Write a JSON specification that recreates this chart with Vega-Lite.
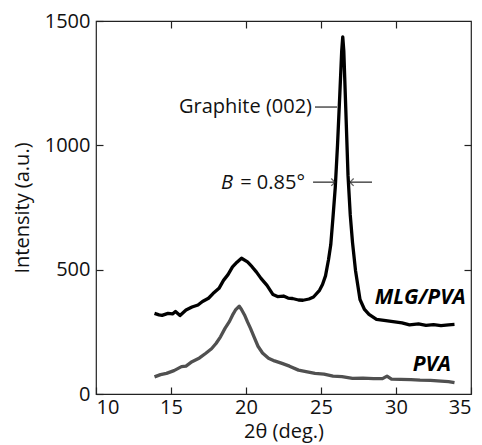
{
  "$schema": "https://vega.github.io/schema/vega-lite/v6.json",
  "width": 375,
  "height": 373,
  "autosize": "none",
  "padding": {"left": 96, "top": 21, "right": 11, "bottom": 51},
  "config": {
    "font": "Open Sans",
    "view": {"stroke": "#222", "strokeWidth": 1.2},
    "axis": {
      "domain": false,
      "grid": false,
      "tickColor": "#222",
      "tickSize": -7,
      "tickWidth": 1.2,
      "labelFont": "Open Sans",
      "labelFontSize": 20,
      "labelColor": "#111",
      "titleFont": "Open Sans",
      "titleFontSize": 20,
      "titleFontWeight": "normal",
      "titleColor": "#111"
    }
  },
  "datasets": {
    "curves": [
      {"x": 13.9, "y": 324, "s": "MLG/PVA"},
      {"x": 14.2, "y": 318, "s": "MLG/PVA"},
      {"x": 14.4, "y": 316, "s": "MLG/PVA"},
      {"x": 14.8, "y": 324, "s": "MLG/PVA"},
      {"x": 15.1, "y": 322, "s": "MLG/PVA"},
      {"x": 15.3, "y": 332, "s": "MLG/PVA"},
      {"x": 15.6, "y": 316, "s": "MLG/PVA"},
      {"x": 16.0, "y": 338, "s": "MLG/PVA"},
      {"x": 16.4, "y": 350, "s": "MLG/PVA"},
      {"x": 16.8, "y": 358, "s": "MLG/PVA"},
      {"x": 17.1, "y": 372, "s": "MLG/PVA"},
      {"x": 17.5, "y": 385, "s": "MLG/PVA"},
      {"x": 17.8, "y": 404, "s": "MLG/PVA"},
      {"x": 18.2, "y": 425, "s": "MLG/PVA"},
      {"x": 18.5, "y": 457, "s": "MLG/PVA"},
      {"x": 18.8, "y": 480, "s": "MLG/PVA"},
      {"x": 19.1, "y": 511, "s": "MLG/PVA"},
      {"x": 19.4, "y": 530, "s": "MLG/PVA"},
      {"x": 19.7, "y": 546, "s": "MLG/PVA"},
      {"x": 20.1, "y": 531, "s": "MLG/PVA"},
      {"x": 20.4, "y": 512, "s": "MLG/PVA"},
      {"x": 20.7, "y": 490, "s": "MLG/PVA"},
      {"x": 21.0, "y": 465, "s": "MLG/PVA"},
      {"x": 21.4, "y": 437, "s": "MLG/PVA"},
      {"x": 21.8, "y": 400, "s": "MLG/PVA"},
      {"x": 22.1, "y": 392, "s": "MLG/PVA"},
      {"x": 22.5, "y": 394, "s": "MLG/PVA"},
      {"x": 22.8, "y": 386, "s": "MLG/PVA"},
      {"x": 23.1, "y": 384, "s": "MLG/PVA"},
      {"x": 23.5, "y": 378, "s": "MLG/PVA"},
      {"x": 23.8, "y": 377, "s": "MLG/PVA"},
      {"x": 24.2, "y": 382, "s": "MLG/PVA"},
      {"x": 24.5, "y": 390, "s": "MLG/PVA"},
      {"x": 24.9, "y": 417, "s": "MLG/PVA"},
      {"x": 25.1, "y": 440, "s": "MLG/PVA"},
      {"x": 25.3, "y": 475, "s": "MLG/PVA"},
      {"x": 25.5, "y": 540, "s": "MLG/PVA"},
      {"x": 25.65, "y": 600, "s": "MLG/PVA"},
      {"x": 25.8, "y": 711, "s": "MLG/PVA"},
      {"x": 25.95, "y": 830, "s": "MLG/PVA"},
      {"x": 26.1, "y": 1000, "s": "MLG/PVA"},
      {"x": 26.25, "y": 1200, "s": "MLG/PVA"},
      {"x": 26.38, "y": 1380, "s": "MLG/PVA"},
      {"x": 26.45, "y": 1436, "s": "MLG/PVA"},
      {"x": 26.52, "y": 1380, "s": "MLG/PVA"},
      {"x": 26.65, "y": 1150, "s": "MLG/PVA"},
      {"x": 26.8, "y": 880, "s": "MLG/PVA"},
      {"x": 26.95, "y": 720, "s": "MLG/PVA"},
      {"x": 27.1, "y": 610, "s": "MLG/PVA"},
      {"x": 27.3, "y": 497, "s": "MLG/PVA"},
      {"x": 27.6, "y": 380, "s": "MLG/PVA"},
      {"x": 27.9, "y": 340, "s": "MLG/PVA"},
      {"x": 28.2, "y": 320, "s": "MLG/PVA"},
      {"x": 28.7, "y": 300, "s": "MLG/PVA"},
      {"x": 29.2, "y": 296, "s": "MLG/PVA"},
      {"x": 29.8, "y": 291, "s": "MLG/PVA"},
      {"x": 30.4, "y": 286, "s": "MLG/PVA"},
      {"x": 30.9, "y": 278, "s": "MLG/PVA"},
      {"x": 31.5, "y": 282, "s": "MLG/PVA"},
      {"x": 32.0, "y": 276, "s": "MLG/PVA"},
      {"x": 32.5, "y": 279, "s": "MLG/PVA"},
      {"x": 33.0, "y": 275, "s": "MLG/PVA"},
      {"x": 33.5, "y": 278, "s": "MLG/PVA"},
      {"x": 33.9, "y": 280, "s": "MLG/PVA"},
      {"x": 13.9, "y": 69, "s": "PVA"},
      {"x": 14.3, "y": 78, "s": "PVA"},
      {"x": 14.7, "y": 83, "s": "PVA"},
      {"x": 15.2, "y": 94, "s": "PVA"},
      {"x": 15.7, "y": 110, "s": "PVA"},
      {"x": 16.0, "y": 112, "s": "PVA"},
      {"x": 16.4, "y": 130, "s": "PVA"},
      {"x": 16.9, "y": 145, "s": "PVA"},
      {"x": 17.3, "y": 163, "s": "PVA"},
      {"x": 17.7, "y": 182, "s": "PVA"},
      {"x": 18.0, "y": 203, "s": "PVA"},
      {"x": 18.3, "y": 230, "s": "PVA"},
      {"x": 18.6, "y": 264, "s": "PVA"},
      {"x": 18.9, "y": 292, "s": "PVA"},
      {"x": 19.1, "y": 317, "s": "PVA"},
      {"x": 19.3, "y": 338, "s": "PVA"},
      {"x": 19.55, "y": 353, "s": "PVA"},
      {"x": 19.7, "y": 340, "s": "PVA"},
      {"x": 19.9, "y": 318, "s": "PVA"},
      {"x": 20.1, "y": 290, "s": "PVA"},
      {"x": 20.3, "y": 264, "s": "PVA"},
      {"x": 20.5, "y": 235, "s": "PVA"},
      {"x": 20.8, "y": 192, "s": "PVA"},
      {"x": 21.1, "y": 165, "s": "PVA"},
      {"x": 21.5, "y": 144, "s": "PVA"},
      {"x": 21.9, "y": 133, "s": "PVA"},
      {"x": 22.4, "y": 123, "s": "PVA"},
      {"x": 22.9, "y": 112, "s": "PVA"},
      {"x": 23.5, "y": 96, "s": "PVA"},
      {"x": 24.0, "y": 90, "s": "PVA"},
      {"x": 24.6, "y": 83, "s": "PVA"},
      {"x": 25.2, "y": 80, "s": "PVA"},
      {"x": 25.8, "y": 72, "s": "PVA"},
      {"x": 26.4, "y": 70, "s": "PVA"},
      {"x": 27.1, "y": 63, "s": "PVA"},
      {"x": 27.8, "y": 64, "s": "PVA"},
      {"x": 28.5, "y": 62, "s": "PVA"},
      {"x": 29.1, "y": 62, "s": "PVA"},
      {"x": 29.4, "y": 72, "s": "PVA"},
      {"x": 29.7, "y": 60, "s": "PVA"},
      {"x": 30.3, "y": 59, "s": "PVA"},
      {"x": 31.0, "y": 58, "s": "PVA"},
      {"x": 31.6, "y": 56, "s": "PVA"},
      {"x": 32.3, "y": 55, "s": "PVA"},
      {"x": 33.0, "y": 52, "s": "PVA"},
      {"x": 33.5, "y": 50, "s": "PVA"},
      {"x": 33.9, "y": 46, "s": "PVA"}
    ],
    "rules": [
      {"x": 24.6, "x2": 26.07, "y": 1154},
      {"x": 24.47, "x2": 25.93, "y": 852},
      {"x": 26.93, "x2": 28.4, "y": 852}
    ],
    "heads": [
      {"x": 25.93, "y": 852, "dir": "right"},
      {"x": 26.93, "y": 852, "dir": "left"}
    ],
    "labels": [
      {"x": 34.65, "y": 386, "t": "MLG/PVA"},
      {"x": 33.67, "y": 117, "t": "PVA"}
    ],
    "notes": [
      {"x": 24.4, "y": 1154, "t": "Graphite (002)"},
      {"x": 23.93, "y": 850, "t": "= 0.85°"}
    ],
    "inotes": [
      {"x": 19.13, "y": 850, "t": "B"}
    ]
  },
  "resolve": {"axis": {"x": "independent", "y": "independent"}},
  "layer": [
    {
      "data": {"name": "curves"},
      "mark": {"type": "line", "strokeWidth": 3.3, "strokeJoin": "round"},
      "encoding": {
        "x": {"field": "x", "type": "quantitative", "scale": {"domain": [10, 35], "nice": false, "zero": false},
              "axis": {"orient": "bottom", "values": [10, 15, 20, 25, 30, 35], "format": "d", "title": "2θ  (deg.)", "titlePadding": 4, "labelPadding": 10}},
        "y": {"field": "y", "type": "quantitative", "scale": {"domain": [0, 1500], "nice": false},
              "axis": {"orient": "left", "values": [0, 500, 1000, 1500], "format": "d", "title": "Intensity (a.u.)", "titlePadding": 12, "labelPadding": 13}},
        "color": {"field": "s", "type": "nominal", "scale": {"domain": ["MLG/PVA", "PVA"], "range": ["#000000", "#505050"]}, "legend": null},
        "detail": {"field": "s"}
      }
    },
    {
      "data": {"name": "curves"},
      "mark": {"type": "point", "opacity": 0},
      "encoding": {
        "x": {"field": "x", "type": "quantitative", "axis": {"orient": "top", "values": [15, 20, 25, 30], "labels": false, "title": null}},
        "y": {"field": "y", "type": "quantitative", "axis": {"orient": "right", "values": [500, 1000], "labels": false, "title": null}}
      }
    },
    {
      "data": {"name": "rules"},
      "mark": {"type": "rule", "color": "#222", "strokeWidth": 1.2},
      "encoding": {
        "x": {"field": "x", "type": "quantitative", "axis": null},
        "x2": {"field": "x2"},
        "y": {"field": "y", "type": "quantitative", "axis": null}
      }
    },
    {
      "data": {"name": "heads"},
      "mark": {"type": "point", "filled": false, "strokeWidth": 1.3, "color": "#222", "size": 55},
      "encoding": {
        "x": {"field": "x", "type": "quantitative", "axis": null},
        "y": {"field": "y", "type": "quantitative", "axis": null},
        "shape": {"field": "dir", "type": "nominal", "scale": {"domain": ["right", "left"], "range": ["M-1,-1L0,0L-1,1", "M1,-1L0,0L1,1"]}, "legend": null}
      }
    },
    {
      "data": {"name": "labels"},
      "mark": {"type": "text", "align": "right", "baseline": "middle", "fontSize": 21, "fontWeight": "bold", "fontStyle": "italic", "font": "Open Sans", "color": "#000"},
      "encoding": {
        "x": {"field": "x", "type": "quantitative", "axis": null},
        "y": {"field": "y", "type": "quantitative", "axis": null},
        "text": {"field": "t"}
      }
    },
    {
      "data": {"name": "notes"},
      "mark": {"type": "text", "align": "right", "baseline": "middle", "fontSize": 20, "font": "Open Sans", "color": "#111"},
      "encoding": {
        "x": {"field": "x", "type": "quantitative", "axis": null},
        "y": {"field": "y", "type": "quantitative", "axis": null},
        "text": {"field": "t"}
      }
    },
    {
      "data": {"name": "inotes"},
      "mark": {"type": "text", "align": "right", "baseline": "middle", "fontSize": 20, "fontStyle": "italic", "font": "Open Sans", "color": "#111"},
      "encoding": {
        "x": {"field": "x", "type": "quantitative", "axis": null},
        "y": {"field": "y", "type": "quantitative", "axis": null},
        "text": {"field": "t"}
      }
    }
  ]
}
